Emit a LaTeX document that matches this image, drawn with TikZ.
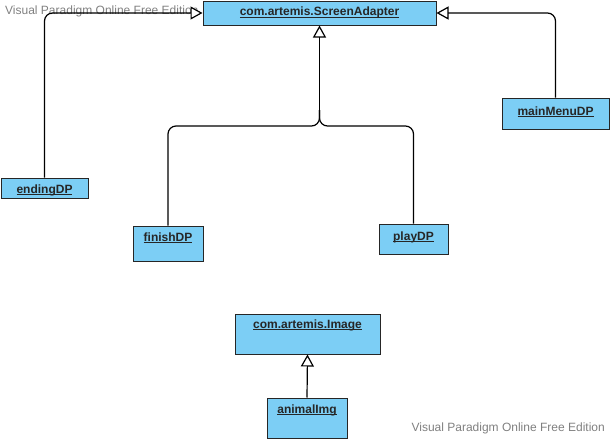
\documentclass[tikz,border=0pt]{standalone}
\usepackage{fontspec}
\setmainfont{Liberation Sans}
\usetikzlibrary{arrows.meta}
\definecolor{boxfill}{RGB}{124,206,245}
\definecolor{wm}{RGB}{128,128,128}
\newcommand\myul[1]{\setbox0\hbox{#1}\rlap{\rule[-1.7pt]{\wd0}{0.75pt}}\box0}
\tikzset{
  classbox/.style={draw=black!85, line width=1pt, fill=boxfill, inner sep=0pt},
  classtext/.style={anchor=base, inner sep=0pt, font=\fontsize{12}{14}\selectfont\bfseries, text=black!85},
  gen/.style={draw=black, line width=1.2pt, rounded corners=8pt, -{Triangle[open, length=12pt, width=13pt, fill=white]}},
  watermark/.style={inner sep=0pt, font=\fontsize{12}{14}\selectfont, text=wm}
}
\begin{document}
\begin{tikzpicture}[x=1pt,y=-1pt]
\useasboundingbox (0,0) rectangle (610,439);
% watermarks
\node[watermark, anchor=west] (wm1) at (5,11) {Visual Paradigm Online Free Edition};
\node[watermark, anchor=east] (wm2) at (605,428) {Visual Paradigm Online Free Edition};
% boxes
\node[classbox, minimum width=233pt, minimum height=24pt] (SA) at (319.5,13) {};
\node[classbox, minimum width=87pt, minimum height=20pt] (ending) at (44.5,188) {};
\node[classbox, minimum width=70pt, minimum height=35pt] (finish) at (168,243.5) {};
\node[classbox, minimum width=69pt, minimum height=30pt] (play) at (413.5,239) {};
\node[classbox, minimum width=107pt, minimum height=31pt] (menu) at (555.5,113.5) {};
\node[classbox, minimum width=145pt, minimum height=40pt] (image) at (307.5,334) {};
\node[classbox, minimum width=80pt, minimum height=40pt] (animal) at (307,418) {};
% texts
\node[classtext] (tSA) at (319.5,16) {\myul{com.artemis.ScreenAdapter}};
\node[classtext] (tending) at (44.5,193) {\myul{endingDP}};
\node[classtext] (tfinish) at (168,241) {\myul{finishDP}};
\node[classtext] (tplay) at (413.5,240) {\myul{playDP}};
\node[classtext] (tmenu) at (555.5,115) {\myul{mainMenuDP}};
\node[classtext] (timage) at (307.5,328) {\myul{com.artemis.Image}};
\node[classtext] (tanimal) at (307,413) {\myul{animalImg}};
% connectors
\coordinate (j) at (319.5,126);
\draw[gen] (ending.north) |- (SA.west);
\draw[gen] (menu.north) |- (SA.east);
\draw[draw=black, line width=1.2pt, rounded corners=8pt] (finish.north) |- (j) -- (319.5,110);
\draw[draw=black, line width=1.2pt, rounded corners=8pt] (play.north) |- (j) -- (319.5,110);
\draw[gen] (319.5,112) -- (SA.south);
\draw[gen] (animal.north) -- (image.south);
\end{tikzpicture}
\end{document}
